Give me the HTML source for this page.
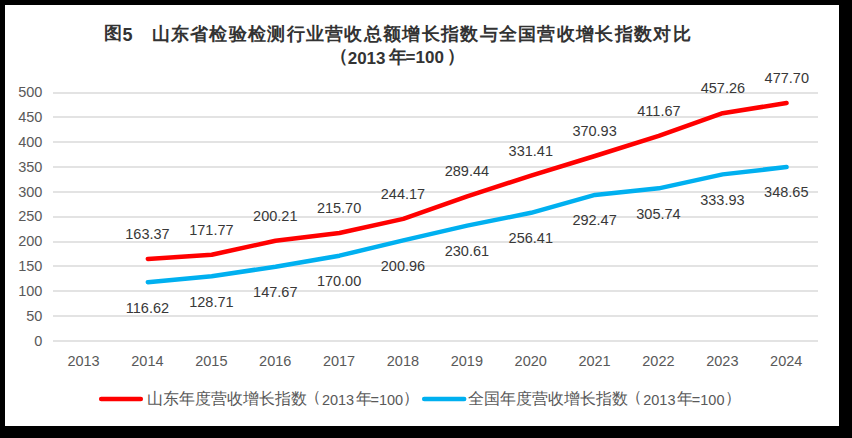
<!DOCTYPE html><html><head><meta charset="utf-8"><style>
html,body{margin:0;padding:0;background:#000;}
body{width:852px;height:438px;position:relative;overflow:hidden;font-family:"Liberation Sans",sans-serif;}
#w{position:absolute;left:5px;top:5px;width:834px;height:421px;background:#fff;}
.t{position:absolute;white-space:nowrap;line-height:1;}
.g{position:absolute;left:53px;width:765px;height:2px;background:#e3e3e3;}
</style></head><body><div id="w"></div>
<div class="g" style="top:340px"></div>
<div class="g" style="top:315px"></div>
<div class="g" style="top:290px"></div>
<div class="g" style="top:265px"></div>
<div class="g" style="top:241px"></div>
<div class="g" style="top:216px"></div>
<div class="g" style="top:191px"></div>
<div class="g" style="top:166px"></div>
<div class="g" style="top:141px"></div>
<div class="g" style="top:116px"></div>
<div class="g" style="top:92px"></div>
<svg width="852" height="438" style="position:absolute;left:0;top:0">
<polyline points="147.81,282.16 211.69,276.16 275.56,266.76 339.44,255.68 403.31,240.32 467.19,225.62 531.06,212.82 594.94,194.93 658.81,188.35 722.69,174.37 786.56,167.07" fill="none" stroke="#00b0f0" stroke-width="4.5" stroke-linecap="round" stroke-linejoin="round"/>
<polyline points="147.81,258.97 211.69,254.80 275.56,240.70 339.44,233.01 403.31,218.89 467.19,196.44 531.06,175.62 594.94,156.02 658.81,135.81 722.69,113.20 786.56,103.06" fill="none" stroke="#ff0000" stroke-width="4.5" stroke-linecap="round" stroke-linejoin="round"/>
<line x1="101.2" y1="399.1" x2="140.8" y2="399.1" stroke="#ff0000" stroke-width="4.5" stroke-linecap="round"/>
<line x1="424.2" y1="399.1" x2="464.2" y2="399.1" stroke="#00b0f0" stroke-width="4.5" stroke-linecap="round"/>
</svg>
<div class="t" style="left:34.2px;top:333.9px;font-size:14.5px;color:#595959;">0</div>
<div class="t" style="left:26.2px;top:309.0px;font-size:14.5px;color:#595959;">50</div>
<div class="t" style="left:18.2px;top:284.1px;font-size:14.5px;color:#595959;">100</div>
<div class="t" style="left:18.2px;top:259.2px;font-size:14.5px;color:#595959;">150</div>
<div class="t" style="left:18.2px;top:234.3px;font-size:14.5px;color:#595959;">200</div>
<div class="t" style="left:18.2px;top:209.4px;font-size:14.5px;color:#595959;">250</div>
<div class="t" style="left:18.2px;top:184.6px;font-size:14.5px;color:#595959;">300</div>
<div class="t" style="left:18.2px;top:159.7px;font-size:14.5px;color:#595959;">350</div>
<div class="t" style="left:18.2px;top:134.8px;font-size:14.5px;color:#595959;">400</div>
<div class="t" style="left:18.2px;top:109.9px;font-size:14.5px;color:#595959;">450</div>
<div class="t" style="left:18.2px;top:85.0px;font-size:14.5px;color:#595959;">500</div>
<div class="t" style="left:67.4px;top:354.0px;font-size:14.5px;color:#595959;">2013</div>
<div class="t" style="left:131.3px;top:354.0px;font-size:14.5px;color:#595959;">2014</div>
<div class="t" style="left:195.2px;top:354.0px;font-size:14.5px;color:#595959;">2015</div>
<div class="t" style="left:259.1px;top:354.0px;font-size:14.5px;color:#595959;">2016</div>
<div class="t" style="left:322.9px;top:354.0px;font-size:14.5px;color:#595959;">2017</div>
<div class="t" style="left:386.8px;top:354.0px;font-size:14.5px;color:#595959;">2018</div>
<div class="t" style="left:450.7px;top:354.0px;font-size:14.5px;color:#595959;">2019</div>
<div class="t" style="left:514.6px;top:354.0px;font-size:14.5px;color:#595959;">2020</div>
<div class="t" style="left:578.4px;top:354.0px;font-size:14.5px;color:#595959;">2021</div>
<div class="t" style="left:642.3px;top:354.0px;font-size:14.5px;color:#595959;">2022</div>
<div class="t" style="left:706.2px;top:354.0px;font-size:14.5px;color:#595959;">2023</div>
<div class="t" style="left:770.1px;top:354.0px;font-size:14.5px;color:#595959;">2024</div>
<div class="t" style="left:125.3px;top:227.0px;font-size:14.5px;color:#383838;">163.37</div>
<div class="t" style="left:189.2px;top:222.8px;font-size:14.5px;color:#383838;">171.77</div>
<div class="t" style="left:253.1px;top:208.7px;font-size:14.5px;color:#383838;">200.21</div>
<div class="t" style="left:316.9px;top:201.0px;font-size:14.5px;color:#383838;">215.70</div>
<div class="t" style="left:380.8px;top:186.9px;font-size:14.5px;color:#383838;">244.17</div>
<div class="t" style="left:444.7px;top:164.4px;font-size:14.5px;color:#383838;">289.44</div>
<div class="t" style="left:508.6px;top:143.6px;font-size:14.5px;color:#383838;">331.41</div>
<div class="t" style="left:572.4px;top:124.0px;font-size:14.5px;color:#383838;">370.93</div>
<div class="t" style="left:637.3px;top:103.8px;font-size:14.5px;color:#383838;">411.67</div>
<div class="t" style="left:700.7px;top:81.2px;font-size:14.5px;color:#383838;">457.26</div>
<div class="t" style="left:764.6px;top:71.1px;font-size:14.5px;color:#383838;">477.70</div>
<div class="t" style="left:125.8px;top:300.5px;font-size:14.5px;color:#383838;">116.62</div>
<div class="t" style="left:189.2px;top:294.5px;font-size:14.5px;color:#383838;">128.71</div>
<div class="t" style="left:253.1px;top:285.1px;font-size:14.5px;color:#383838;">147.67</div>
<div class="t" style="left:316.9px;top:274.0px;font-size:14.5px;color:#383838;">170.00</div>
<div class="t" style="left:380.8px;top:258.6px;font-size:14.5px;color:#383838;">200.96</div>
<div class="t" style="left:444.7px;top:243.9px;font-size:14.5px;color:#383838;">230.61</div>
<div class="t" style="left:508.6px;top:231.1px;font-size:14.5px;color:#383838;">256.41</div>
<div class="t" style="left:572.4px;top:213.2px;font-size:14.5px;color:#383838;">292.47</div>
<div class="t" style="left:636.3px;top:206.7px;font-size:14.5px;color:#383838;">305.74</div>
<div class="t" style="left:700.2px;top:192.7px;font-size:14.5px;color:#383838;">333.93</div>
<div class="t" style="left:764.1px;top:185.4px;font-size:14.5px;color:#383838;">348.65</div>
<div class="t" style="left:104.3px;top:24.3px;font-size:18px;font-weight:bold;color:#333;">图</div>
<div class="t" style="left:122.5px;top:26.0px;font-size:18px;font-weight:bold;color:#333;">5</div>
<div class="t" style="left:151.5px;top:25.0px;font-size:18px;font-weight:bold;color:#333;letter-spacing:1.3px;">山东省检验检测行业营收总额增长指数与全国营收增长指数对比</div>
<div class="t" style="left:330.3px;top:47.0px;font-size:18px;font-weight:bold;color:#333;">（</div>
<div class="t" style="left:347.7px;top:50.0px;font-size:17px;font-weight:bold;color:#333;">2013</div>
<div class="t" style="left:388.5px;top:47.5px;font-size:18px;font-weight:bold;color:#333;">年</div>
<div class="t" style="left:405.6px;top:49.0px;font-size:17px;font-weight:bold;color:#333;">=100</div>
<div class="t" style="left:446.8px;top:47.0px;font-size:18px;font-weight:bold;color:#333;">）</div>
<div class="t" style="left:147.0px;top:391.4px;font-size:16px;color:#595959;">山东年度营收增长指数</div>
<div class="t" style="left:304.8px;top:389.0px;font-size:16px;color:#595959;">（</div>
<div class="t" style="left:321.9px;top:393.0px;font-size:14.5px;color:#595959;">2013</div>
<div class="t" style="left:356.0px;top:391.3px;font-size:16px;color:#595959;">年</div>
<div class="t" style="left:370.5px;top:393.0px;font-size:14.5px;color:#595959;">=100</div>
<div class="t" style="left:403.2px;top:390.0px;font-size:16px;color:#595959;">）</div>
<div class="t" style="left:468.3px;top:391.4px;font-size:16px;color:#595959;">全国年度营收增长指数</div>
<div class="t" style="left:626.1px;top:389.0px;font-size:16px;color:#595959;">（</div>
<div class="t" style="left:643.2px;top:393.0px;font-size:14.5px;color:#595959;">2013</div>
<div class="t" style="left:677.3px;top:391.3px;font-size:16px;color:#595959;">年</div>
<div class="t" style="left:691.8px;top:393.0px;font-size:14.5px;color:#595959;">=100</div>
<div class="t" style="left:724.5px;top:390.0px;font-size:16px;color:#595959;">）</div>
</body></html>
